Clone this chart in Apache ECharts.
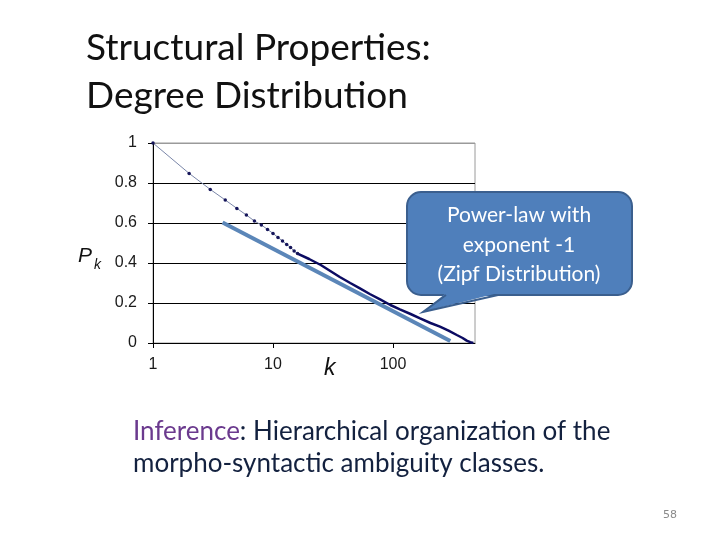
<!DOCTYPE html>
<html>
<head>
<meta charset="utf-8">
<script src="https://cdn.jsdelivr.net/npm/echarts@6/dist/echarts.min.js"></script>
<style>
  html, body { margin: 0; padding: 0; background: #fff; }
  #chart { width: 720px; height: 540px; }
</style>
</head>
<body>
<div id="chart"></div>
<script>
// rank k vs Pk
var dotK = [1, 2, 3, 4, 5, 6, 7, 8, 9, 10, 11, 12, 13, 14, 15, 16];
var dotP = [1, 0.848, 0.768, 0.715, 0.673, 0.64, 0.61, 0.59, 0.568, 0.548, 0.528, 0.51, 0.493, 0.478, 0.46, 0.447];
var tailK = [16, 20, 25, 30, 36, 44, 53, 64, 78, 95, 114, 140, 168, 205, 246, 290, 340, 380, 411, 440, 467];
var tailP = [0.447, 0.42, 0.39, 0.36, 0.33, 0.30, 0.273, 0.245, 0.218, 0.19, 0.168, 0.145, 0.123, 0.10, 0.082, 0.062, 0.04, 0.025, 0.012, 0.004, 0.0];
// fitted power-law line
var fitK = [3.8, 300];
var fitP = [0.602, 0.01];
var yTicks = [0, 0.2, 0.4, 0.6, 0.8, 1];

function pairs(xs, ys) {
    var out = [];
    for (var i = 0; i < xs.length; i++) {
        out.push([xs[i], ys[i]]);
    }
    return out;
}

var chart = echarts.init(document.getElementById('chart'));

var option = {
    backgroundColor: '#fff',
    animation: false,
    grid: {
        left: 153,
        right: 245,
        top: 143,
        bottom: 197,
        show: true,
        borderColor: '#9a9a9a',
        borderWidth: 1
    },
    xAxis: {
        type: 'log',
        logBase: 10,
        min: 1,
        max: 482,
        axisLine: { lineStyle: { color: '#000', width: 1 } },
        axisTick: { show: true, length: 5, lineStyle: { color: '#000' } },
        axisLabel: {
            margin: 14,
            fontFamily: 'Liberation Sans',
            fontSize: 16,
            color: '#1a1a1a',
            showMaxLabel: false
        },
        minorTick: { show: false },
        splitLine: { show: false }
    },
    yAxis: {
        type: 'value',
        min: 0,
        max: 1,
        interval: 0.2,
        axisLine: { show: true, lineStyle: { color: '#000', width: 1 } },
        axisTick: { show: true, length: 5, lineStyle: { color: '#000' } },
        axisLabel: {
            margin: 16,
            fontFamily: 'Liberation Sans',
            fontSize: 16,
            color: '#1a1a1a',
            formatter: function (v) {
                var r = Math.round(v * 10) / 10;
                return yTicks.indexOf(r) >= 0 ? String(r) : '';
            }
        },
        splitLine: {
            show: true,
            lineStyle: { color: ['#000', '#000', '#000', '#000', '#000', '#9a9a9a'], width: 1 }
        }
    },
    series: [
        {
            name: 'fit',
            type: 'line',
            data: pairs(fitK, fitP),
            symbol: 'none',
            lineStyle: { color: '#5b86b8', width: 4 },
            z: 2
        },
        {
            name: 'tail',
            type: 'line',
            data: pairs(tailK, tailP),
            symbol: 'none',
            lineStyle: { color: '#0b0b62', width: 2.5 },
            z: 3
        },
        {
            name: 'dots',
            type: 'line',
            data: pairs(dotK, dotP),
            symbol: 'circle',
            symbolSize: 3.5,
            itemStyle: { color: '#15155a', borderWidth: 0 },
            lineStyle: { color: '#7a86a8', width: 1 },
            z: 4
        }
    ],
    graphic: [
        {
            type: 'text',
            left: 86,
            top: 24,
            style: {
                text: 'Structural Properties:\nDegree Distribution',
                font: '37px Lato',
                lineHeight: 48,
                fill: '#111'
            }
        },
        {
            type: 'text',
            left: 78,
            top: 246,
            style: { text: 'P', font: 'italic 21px "Liberation Sans"', fill: '#111' }
        },
        {
            type: 'text',
            left: 94,
            top: 258,
            style: { text: 'k', font: 'italic 14px "Liberation Sans"', fill: '#111' }
        },
        {
            type: 'text',
            left: 324,
            top: 357,
            style: { text: 'k', font: 'italic 23px "Liberation Sans"', fill: '#111' }
        },
        // callout bubble
        {
            type: 'rect',
            shape: { x: 407, y: 192, width: 225, height: 103, r: 14 },
            style: { fill: '#4f7fbb', stroke: '#3b5f8e', lineWidth: 2 },
            z: 10
        },
        {
            type: 'polygon',
            shape: { points: [[446, 293], [423, 312], [498, 293]] },
            style: { fill: '#4f7fbb' },
            z: 11
        },
        {
            type: 'polyline',
            shape: { points: [[446, 295], [423, 312], [498, 295]] },
            style: { stroke: '#3b5f8e', lineWidth: 2, fill: null },
            z: 11
        },
        {
            type: 'text',
            x: 519,
            y: 245,
            z: 12,
            style: {
                text: 'Power-law with\nexponent -1\n(Zipf Distribution)',
                font: '21px Lato',
                lineHeight: 29.5,
                fill: '#fff',
                align: 'center',
                verticalAlign: 'middle'
            }
        },
        {
            type: 'text',
            left: 133,
            top: 419,
            style: {
                rich: {
                    p: { fontFamily: 'Lato', fontSize: 26, fill: '#6b3a8e', lineHeight: 32 },
                    n: { fontFamily: 'Lato', fontSize: 26, fill: '#13213f', lineHeight: 32 }
                },
                text: '{p|Inference}{n|: Hierarchical organization of the}\n{n|morpho-syntactic ambiguity classes.}'
            }
        },
        {
            type: 'text',
            x: 670,
            y: 515,
            style: {
                text: '58',
                font: '11px "DejaVu Sans"',
                fill: '#8a8a8a',
                align: 'center',
                verticalAlign: 'middle'
            }
        }
    ]
};

chart.setOption(option);
</script>
</body>
</html>
